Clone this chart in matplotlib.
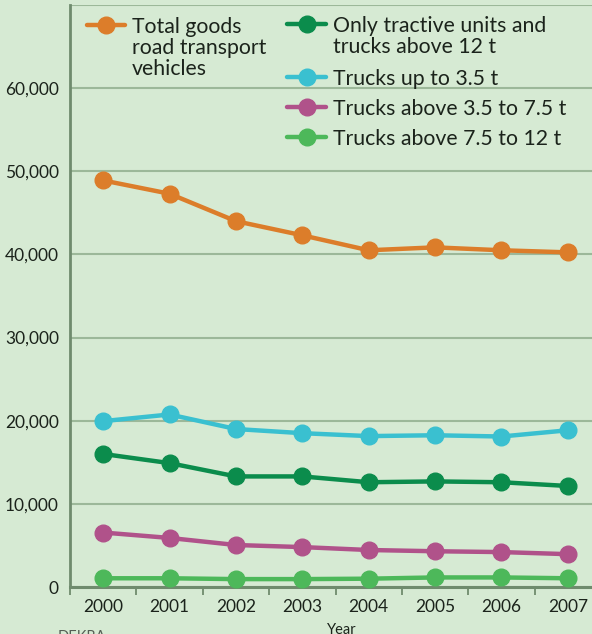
import matplotlib
matplotlib.use("Agg")
import matplotlib.pyplot as plt
from matplotlib.lines import Line2D
import numpy as np

years = ["2000", "2001", "2002", "2003", "2004", "2005", "2006", "2007"]
total = [48900, 47300, 44000, 42300, 40500, 40850, 40500, 40250]
tractive = [16000, 14900, 13300, 13300, 12600, 12700, 12600, 12150]
upto35 = [19950, 20750, 19000, 18500, 18150, 18250, 18100, 18850]
t35_75 = [6550, 5900, 5050, 4800, 4450, 4300, 4200, 3950]
t75_12 = [1050, 1050, 950, 950, 1000, 1150, 1150, 1050]

labels = ["Total goods\nroad transport\nvehicles",
          "Only tractive units and\ntrucks above 12 t",
          "Trucks up to 3.5 t",
          "Trucks above 3.5 to 7.5 t",
          "Trucks above 7.5 to 12 t"]
colors = ["#DC7D2A", "#0B8C4C", "#3AC0D0", "#B0528A", "#4DB85A"]
series = [total, tractive, upto35, t35_75, t75_12]

BG = "#D6EAD3"
GRID = "#9CB899"
SPINE = "#6F8B6D"
TXT = "#1B231B"
FONT = "Lato"

W, H = 592, 634
fig = plt.figure(figsize=(W / 100, H / 100), dpi=100, facecolor=BG)

def fx(px):
    return px / W

def fy(py):
    return 1 - py / H

x0, x1 = 70, 601
ytop, ybot = 5, 587
ax = fig.add_axes([fx(x0), fy(ybot), fx(x1 - x0), (ybot - ytop) / H])
ax.set_facecolor(BG)

x = np.arange(len(years))
draw_order = [4, 3, 1, 2, 0]
for i in draw_order:
    ax.plot(x, series[i], color=colors[i], lw=3.2, marker="o", ms=12,
            solid_capstyle="round", zorder=3, clip_on=False)

ax.set_xlim(-0.5, len(years) - 0.5)
ax.set_ylim(0, 70000)
ax.set_yticks(np.arange(0, 70001, 10000))
ylabels = [f"{v:,}" for v in range(0, 60001, 10000)] + [""]
ax.set_yticklabels(ylabels)
ax.set_xticks(x)
ax.set_xticklabels(years)
ax.set_xticks(np.arange(-0.5, len(years), 1.0), minor=True)
ax.grid(axis="y", color=GRID, lw=1.5, zorder=0)
ax.set_axisbelow(True)

for s in ["top", "right"]:
    ax.spines[s].set_visible(False)
ax.spines["left"].set_color(SPINE)
ax.spines["left"].set_linewidth(2)
ax.spines["bottom"].set_color(SPINE)
ax.spines["bottom"].set_linewidth(2.2)

ax.tick_params(axis="y", length=0, pad=8, labelsize=12.5, labelcolor=TXT)
ax.tick_params(axis="x", which="major", length=0, pad=9, labelsize=12.5, labelcolor=TXT)
ax.tick_params(axis="x", which="minor", length=6, width=1.3, color=SPINE)
for lab in ax.get_xticklabels() + ax.get_yticklabels():
    lab.set_fontfamily(FONT)

fig.text(fx(342), fy(634), "Year", ha="center", va="baseline",
         fontsize=10.5, color=TXT, family=FONT)
fig.text(fx(58), fy(641), "DEKRA", ha="left", va="baseline",
         fontsize=10.5, color="#555F55", family=FONT)

# legend (two columns)
entries = [
    (87, 125, 33, 0),
    (287, 326, 32, 1),
    (287, 326, 85, 2),
    (287, 326, 115, 3),
    (287, 326, 145, 4),
]
LSP = 21
for lx0, lx1, base, i in entries:
    ym = fy(base - 8.5)
    fig.add_artist(Line2D([fx(lx0), fx(lx1)], [ym, ym], transform=fig.transFigure,
                          color=colors[i], lw=3.2, solid_capstyle="round"))
    fig.add_artist(Line2D([fx((lx0 + lx1) / 2)], [ym], transform=fig.transFigure,
                          color=colors[i], marker="o", ms=12, lw=0))
    for k, line in enumerate(labels[i].split("\n")):
        fig.text(fx(lx1 + 7), fy(base + k * LSP), line, ha="left", va="baseline",
                 fontsize=15.3, color=TXT, family=FONT)

fig.savefig("out.png", dpi=100, facecolor=BG)
